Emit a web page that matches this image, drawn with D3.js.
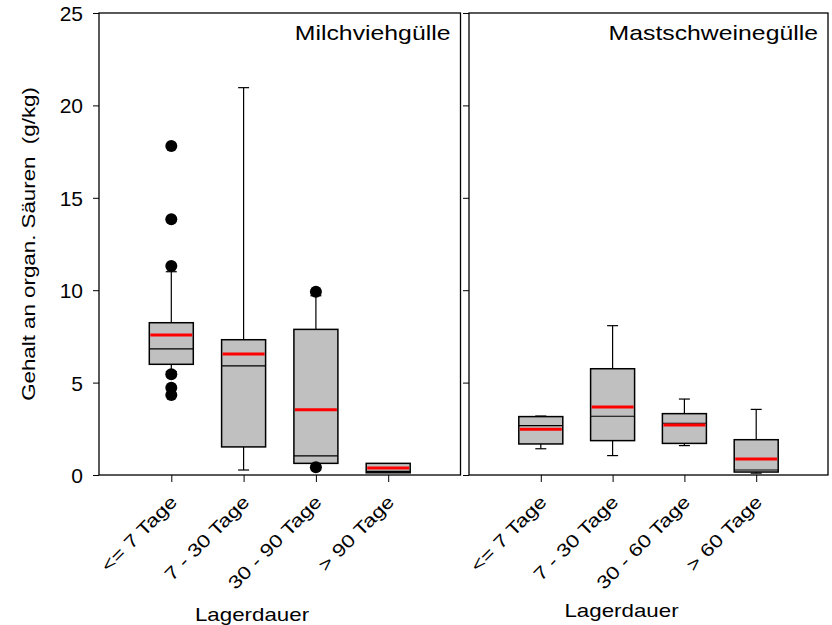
<!DOCTYPE html>
<html>
<head>
<meta charset="utf-8">
<script src="https://cdn.jsdelivr.net/npm/d3@7/dist/d3.min.js"></script>
<style>
  body { margin: 0; background: #fff; }
  text { font-family: "Liberation Sans", Arial, sans-serif; fill: #000; }
</style>
</head>
<body>
<div id="chart"></div>
<script>
// Gehalt an organischen Säuren nach Lagerdauer

const yTicks = [0, 5, 10, 15, 20, 25];

// Milchviehgülle
const milchCats = ["<= 7 Tage", "7 - 30 Tage", "30 - 90 Tage", "> 90 Tage"];
const milchLo = [5.6, 0.27, 0.63, 0.12];
const milchQ1 = [5.99, 1.52, 0.63, 0.12];
const milchMedian = [6.82, 5.9, 1.03, 0.2];
const milchQ3 = [8.24, 7.32, 7.88, 0.63];
const milchHi = [11.0, 20.96, 9.7, 0.63];
const milchMean = [7.58, 6.55, 3.53, 0.38];
const milchOutliers = [[17.8, 13.84, 11.31, 5.45, 4.72, 4.33], [], [9.92, 0.42], []];

// Mastschweinegülle
const mastCats = ["<= 7 Tage", "7 - 30 Tage", "30 - 60 Tage", "> 60 Tage"];
const mastLo = [1.42, 1.05, 1.59, 0.1];
const mastQ1 = [1.68, 1.86, 1.71, 0.16];
const mastMedian = [2.67, 3.18, 2.8, 0.27];
const mastQ3 = [3.16, 5.75, 3.32, 1.91];
const mastHi = [3.19, 8.08, 4.11, 3.55];
const mastMean = [2.47, 3.68, 2.71, 0.87];
const mastOutliers = [[], [], [], []];

const width = 832, height = 625;
const plotTop = 13, plotBottom = 475;
const wide = 1.24; // the original text is drawn a bit wider than Arial

const svg = d3.select("#chart").append("svg")
    .attr("width", width)
    .attr("height", height);

const y = d3.scaleLinear().domain([0, 25]).range([plotBottom, plotTop]);

function rows(cats, lo, q1, med, q3, hi, mean, outl) {
    return cats.map((c, i) => ({
        cat: c, lo: lo[i], q1: q1[i], med: med[i], q3: q3[i], hi: hi[i], mean: mean[i], out: outl[i]
    }));
}

const panels = [
    { title: "Milchviehgülle", x0: 99, x1: 460.5, labels: true, xlabX: 252, xlabY: 621,
      data: rows(milchCats, milchLo, milchQ1, milchMedian, milchQ3, milchHi, milchMean, milchOutliers) },
    { title: "Mastschweinegülle", x0: 469, x1: 828, labels: false, xlabX: 621.5, xlabY: 617,
      data: rows(mastCats, mastLo, mastQ1, mastMedian, mastQ3, mastHi, mastMean, mastOutliers) }
];

panels.forEach(p => {
    const x = d3.scalePoint()
        .domain(p.data.map(d => d.cat))
        .range([p.x0, p.x1])
        .padding(1);
    const boxW = 44, capW = 11;

    const g = svg.append("g");

    // y axis
    const yAxis = d3.axisLeft(y).tickValues(yTicks).tickSize(6).tickPadding(10);
    if (!p.labels) yAxis.tickFormat("");
    const ya = g.append("g").attr("transform", `translate(${p.x0},0)`).call(yAxis);
    ya.select(".domain").remove();
    ya.selectAll("line").attr("stroke", "#000").attr("stroke-width", 1);
    ya.selectAll("text").style("font-size", "21px").attr("dy", "0.36em");

    // x axis
    const xAxis = d3.axisBottom(x).tickSize(7).tickFormat("");
    const xa = g.append("g").attr("transform", `translate(0,${plotBottom})`).call(xAxis);
    xa.select(".domain").remove();
    xa.selectAll("line").attr("stroke", "#000").attr("stroke-width", 1);

    // rotated category labels
    g.selectAll(".cat").data(p.data).enter().append("text")
        .attr("class", "cat")
        .attr("transform", d => `translate(${x(d.cat) + 7},${plotBottom + 28}) rotate(-45) scale(${wide},1)`)
        .attr("text-anchor", "end")
        .style("font-size", "18px")
        .text(d => d.cat);

    // whiskers
    const box = g.selectAll(".box").data(p.data).enter().append("g").attr("class", "box");
    box.filter(d => d.hi > d.q3).append("line")
        .attr("x1", d => x(d.cat)).attr("x2", d => x(d.cat))
        .attr("y1", d => y(d.q3)).attr("y2", d => y(d.hi))
        .attr("stroke", "#000").attr("stroke-width", 1.2);
    box.filter(d => d.lo < d.q1).append("line")
        .attr("x1", d => x(d.cat)).attr("x2", d => x(d.cat))
        .attr("y1", d => y(d.q1)).attr("y2", d => y(d.lo))
        .attr("stroke", "#000").attr("stroke-width", 1.2);
    box.filter(d => d.hi > d.q3).append("line")
        .attr("x1", d => x(d.cat) - capW / 2).attr("x2", d => x(d.cat) + capW / 2)
        .attr("y1", d => y(d.hi)).attr("y2", d => y(d.hi))
        .attr("stroke", "#000").attr("stroke-width", 1.2);
    box.filter(d => d.lo < d.q1).append("line")
        .attr("x1", d => x(d.cat) - capW / 2).attr("x2", d => x(d.cat) + capW / 2)
        .attr("y1", d => y(d.lo)).attr("y2", d => y(d.lo))
        .attr("stroke", "#000").attr("stroke-width", 1.2);

    // boxes
    box.append("rect")
        .attr("x", d => x(d.cat) - boxW / 2)
        .attr("width", boxW)
        .attr("y", d => y(d.q3))
        .attr("height", d => y(d.q1) - y(d.q3))
        .attr("fill", "#c0c0c0")
        .attr("stroke", "#000")
        .attr("stroke-width", 1.5);

    // median
    box.append("line")
        .attr("x1", d => x(d.cat) - boxW / 2).attr("x2", d => x(d.cat) + boxW / 2)
        .attr("y1", d => y(d.med)).attr("y2", d => y(d.med))
        .attr("stroke", "#000").attr("stroke-width", 1.2);

    // mean
    box.append("line")
        .attr("x1", d => x(d.cat) - boxW / 2 + 1).attr("x2", d => x(d.cat) + boxW / 2 - 1)
        .attr("y1", d => y(d.mean)).attr("y2", d => y(d.mean))
        .attr("stroke", "#ff0000").attr("stroke-width", 3);

    // outliers
    box.selectAll(".out").data(d => d.out.map(v => ({ cat: d.cat, v }))).enter()
        .append("circle")
        .attr("cx", d => x(d.cat))
        .attr("cy", d => y(d.v))
        .attr("r", 6)
        .attr("fill", "#000");

    // frame
    g.append("rect")
        .attr("x", p.x0).attr("y", plotTop)
        .attr("width", p.x1 - p.x0).attr("height", plotBottom - plotTop)
        .attr("fill", "none").attr("stroke", "#000").attr("stroke-width", 1.3);

    // panel title
    g.append("text")
        .attr("transform", `translate(${p.x1 - 10},${plotTop + 27}) scale(${wide},1)`)
        .attr("text-anchor", "end")
        .style("font-size", "20px")
        .text(p.title);

    // x label
    g.append("text")
        .attr("transform", `translate(${p.xlabX},${p.xlabY}) scale(${wide},1)`)
        .attr("text-anchor", "middle")
        .style("font-size", "18px")
        .text("Lagerdauer");
});

// y title
svg.append("text")
    .attr("transform", `translate(35,${(plotTop + plotBottom) / 2}) rotate(-90) scale(${wide},1)`)
    .attr("text-anchor", "middle")
    .style("font-size", "18px")
    .style("white-space", "pre")
    .attr("xml:space", "preserve")
    .text("Gehalt an organ. Säuren  (g/kg)");
</script>
</body>
</html>
